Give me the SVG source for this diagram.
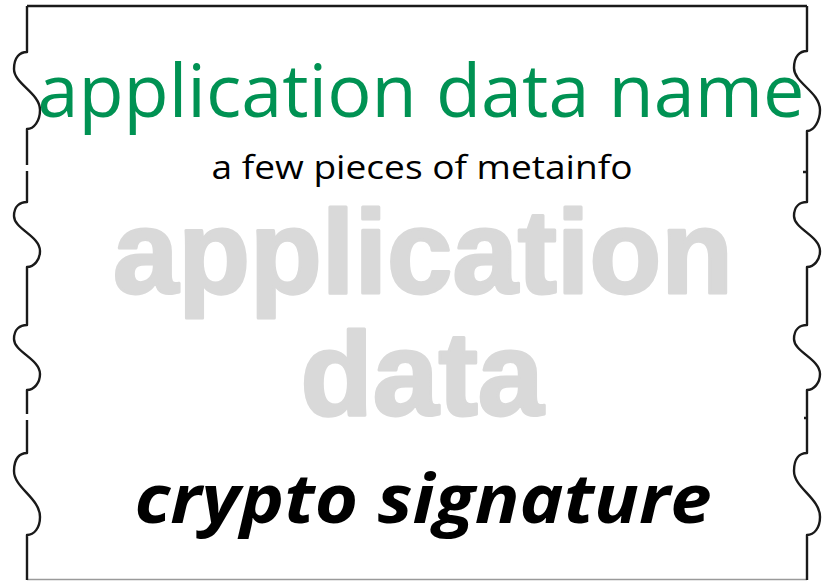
<svg xmlns="http://www.w3.org/2000/svg" width="825" height="581" viewBox="0 0 825 581">
  <defs>
    <style>
      .edge { fill: none; stroke: #1a1a1a; stroke-width: 2.4; stroke-linejoin: round; }
      .base { fill: none; stroke: #9a9a9a; stroke-width: 1.5; }
      .title { font-family: "Open Sans", "Liberation Sans", Arial, sans-serif; fill: #009253; }
      .meta { font-family: "Open Sans", "Liberation Sans", Arial, sans-serif; fill: #000000; }
      .payload { font-family: "Liberation Sans", Arial, sans-serif; font-weight: bold; fill: #d9d9d9; stroke: #d9d9d9; stroke-width: 3; stroke-linejoin: round; }
      .sig { font-family: "Open Sans", "Liberation Sans", Arial, sans-serif; font-weight: bold; font-style: italic; fill: #000000; }
    </style>
  </defs>

  <rect x="0" y="0" width="825" height="581" fill="#ffffff"/>

  <!-- ticket outline: straight top and bottom, notched left and right sides -->
  <g id="ticket">
    <path class="edge" d="M27,6 H807"/>
    <path class="base" d="M27,579.5 H807"/>
    <!-- left side, drawn top to bottom in segments -->
    <path class="edge" d="M27,6 V52
      C20,52 14,57 14,69 C14,84 40,93 40,110 C40,121 34,129 27,129
      V165"/>
    <path class="edge" d="M27,171 V202
      C20,202 14,206 14,216 C14,229 40,236 40,251 C40,260 34,267 27,267
      V325
      C20,325 14,329 14,339 C14,352 40,359 40,374 C40,383 34,390 27,390
      V414"/>
    <path class="edge" d="M27,420 V453
      C20,453 14,458 14,471 C14,488 40,498 40,517 C40,528 34,535 27,535
      V580"/>
    <!-- right side, same notch profile -->
    <path class="edge" d="M807,6 V51
      C800,51 794,56 794,68 C794,83 820,92 820,110 C820,121 814,131 807,131
      V202
      C800,202 794,206 794,216 C794,229 820,236 820,251 C820,260 814,267 807,267
      V325
      C800,325 794,329 794,339 C794,352 820,359 820,374 C820,383 814,390 807,390
      V453
      C800,453 794,458 794,471 C794,488 820,498 820,517 C820,528 814,535 807,535
      V580"/>
    <path class="edge" d="M803,172 H807 M804,418 H807"/>
  </g>

  <g id="name-label">
    <text class="title" x="421" y="117" font-size="73" text-anchor="middle" textLength="767" lengthAdjust="spacingAndGlyphs">application data name</text>
  </g>

  <g id="meta-label">
    <text class="meta" x="422" y="179" font-size="33" text-anchor="middle" textLength="421" lengthAdjust="spacingAndGlyphs">a few pieces of metainfo</text>
  </g>

  <g id="payload-label">
    <text class="payload" x="423" y="293" font-size="118" text-anchor="middle" textLength="620" lengthAdjust="spacingAndGlyphs">application</text>
    <text class="payload" x="422" y="415" font-size="118" text-anchor="middle" textLength="243" lengthAdjust="spacingAndGlyphs">data</text>
  </g>

  <g id="signature-label">
    <text class="sig" x="423" y="523" font-size="68" text-anchor="middle" textLength="577" lengthAdjust="spacingAndGlyphs">crypto signature</text>
  </g>
</svg>
